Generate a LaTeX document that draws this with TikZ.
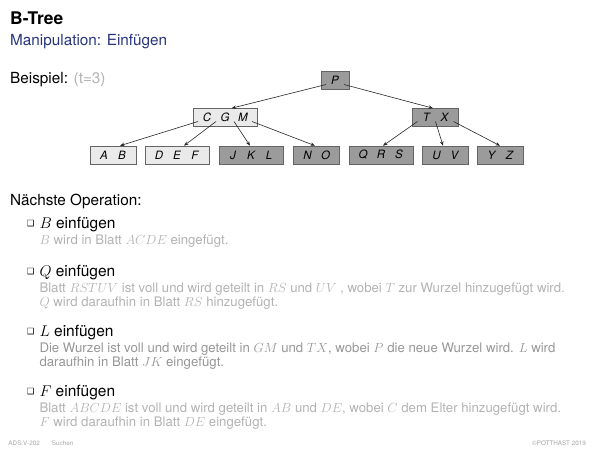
\RequirePackage{fix-cm}
\documentclass[tikz,border=0pt]{standalone}
\usepackage{fontspec}
\setmainfont{TeX Gyre Heros}
\newfontfamily\dejavu{DejaVu Sans}
\usetikzlibrary{calc,arrows.meta}
\definecolor{titleblue}{RGB}{40,52,125}
\definecolor{descgray}{RGB}{178,178,178}
\definecolor{descdark}{RGB}{150,150,150}
\definecolor{footgray}{RGB}{165,165,165}
\definecolor{lightfill}{RGB}{234,234,234}
\definecolor{darkfill}{RGB}{155,155,155}
\definecolor{boxborder}{RGB}{100,100,100}
\newcommand\ks[1]{\makebox[18pt]{#1}}
\tikzset{
  txt/.style={inner sep=0pt, anchor=base west, font=\fontsize{15.3}{18}\selectfont},
  ttl/.style={inner sep=0pt, anchor=base west, font=\fontsize{17.4}{20}\selectfont\bfseries},
  head/.style={inner sep=0pt, anchor=base west, font=\fontsize{15.5}{18}\selectfont},
  desc/.style={inner sep=0pt, anchor=base west, font=\fontsize{13.2}{14}\selectfont, text=descgray},
  foot/.style={inner sep=0pt, font=\fontsize{6.3}{7}\selectfont, text=footgray},
  bul/.style={inner sep=0pt, anchor=center, font=\dejavu\fontsize{8.5}{9}\selectfont},
  keybox/.style={draw=boxborder, line width=0.6pt, minimum height=18pt, inner xsep=5pt, inner ysep=0pt, font=\fontsize{11.5}{12}\selectfont\itshape},
  lightbox/.style={keybox, fill=lightfill},
  darkbox/.style={keybox, fill=darkfill},
  edge/.style={-{Stealth[length=4.5pt,width=3.5pt]}, line width=0.6pt, draw=black!85}
}
\begin{document}
\begin{tikzpicture}[x=1pt,y=-1pt]
\useasboundingbox (0,0) rectangle (600,450);
% header
\node[ttl] (title) at (10,24) {B-Tree};
\node[txt, text=titleblue] (sub) at (10,45) {Manipulation: Einfügen};
\node[txt] (bsp) at (10,83) {Beispiel: \textcolor{descgray}{(t=3)}};
% tree
\node[darkbox] (p) at (335,80.5) {\ks{P}};
\node[lightbox] (cgm) at (225,117.5) {\ks{C}\ks{G}\ks{M}};
\node[darkbox] (tx) at (435.5,117.5) {\ks{T}\ks{X}};
\node[lightbox] (ab) at (113,155) {\ks{A}\ks{B}};
\node[lightbox] (def) at (177,155) {\ks{D}\ks{E}\ks{F}};
\node[darkbox] (jkl) at (251,155) {\ks{J}\ks{K}\ks{L}};
\node[darkbox] (no) at (316.5,155) {\ks{N}\ks{O}};
\node[darkbox] (qrs) at (381,155) {\ks{Q}\ks{R}\ks{S}};
\node[darkbox] (uv) at (445.5,155) {\ks{U}\ks{V}};
\node[darkbox] (yz) at (500.5,155) {\ks{Y}\ks{Z}};
\draw[edge] ($(p.center)+(-9,4)$) -- ($(cgm.north)+(6.7,0)$);
\draw[edge] ($(p.center)+(9,4)$) -- ($(tx.north)+(-2.5,0)$);
\draw[edge] ($(cgm.center)+(-27,4)$) -- ($(ab.north)+(7,0)$);
\draw[edge] ($(cgm.center)+(-9,4)$) -- ($(def.north)+(7,0)$);
\draw[edge] ($(cgm.center)+(9,4)$) -- ($(jkl.north)+(-1,0)$);
\draw[edge] ($(cgm.center)+(27,4)$) -- ($(no.north)+(-1.5,0)$);
\draw[edge] ($(tx.center)+(-18,4)$) -- ($(qrs.north)+(2,0)$);
\draw[edge] ($(tx.center)+(0,4)$) -- ($(uv.north)+(-2.5,0)$);
\draw[edge] ($(tx.center)+(18,4)$) -- ($(yz.north)+(-0.5,0)$);
% list
\node[txt] (next) at (10,205) {Nächste Operation:};
\node[bul] (b1) at (30.8,224) {❑};
\node[head] (h1) at (39.3,228) {$B$ einfügen};
\node[desc] (d1a) at (39.3,244) {$B$ wird in Blatt $ACDE$ eingefügt.};
\node[bul] (b2) at (30.8,272) {❑};
\node[head] (h2) at (39.3,276) {$Q$ einfügen};
\node[desc] (d2a) at (39.3,292) {Blatt $RSTUV$ ist voll und wird geteilt in $RS$ und $UV$ , wobei $T$ zur Wurzel hinzugefügt wird.};
\node[desc] (d2b) at (39.3,306) {$Q$ wird daraufhin in Blatt $RS$ hinzugefügt.};
\node[bul] (b3) at (30.8,332) {❑};
\node[head] (h3) at (39.3,336) {$L$ einfügen};
\node[desc, text=descdark] (d3a) at (39.3,352) {Die Wurzel ist voll und wird geteilt in $GM$ und $TX$, wobei $P$ die neue Wurzel wird. $L$ wird};
\node[desc, text=descdark] (d3b) at (39.3,366) {daraufhin in Blatt $JK$ eingefügt.};
\node[bul] (b4) at (30.8,392) {❑};
\node[head] (h4) at (39.3,396) {$F$ einfügen};
\node[desc] (d4a) at (39.3,412) {Blatt $ABCDE$ ist voll und wird geteilt in $AB$ und $DE$, wobei $C$ dem Elter hinzugefügt wird.};
\node[desc] (d4b) at (39.3,426) {$F$ wird daraufhin in Blatt $DE$ eingefügt.};
% footer
\node[foot, anchor=base west] (f1) at (8.3,445) {ADS:V-202};
\node[foot, anchor=base west] (f2) at (51.7,445) {Suchen};
\node[foot, anchor=base east] (f3) at (586,445) {©POTTHAST 2019};
\end{tikzpicture}
\end{document}
